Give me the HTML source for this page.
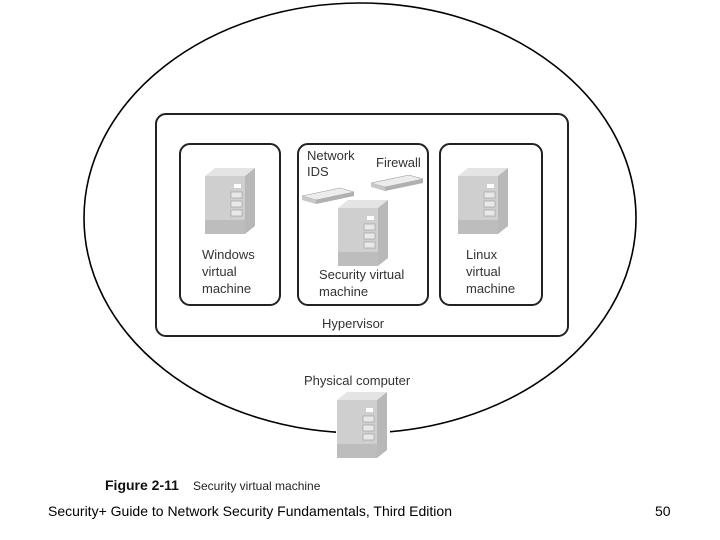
<!DOCTYPE html>
<html><head><meta charset="utf-8"><style>
html,body{margin:0;padding:0;background:#fff;}
svg{display:block;}
text{font-family:"Liberation Sans",sans-serif;}
</style></head><body>
<svg width="720" height="540" viewBox="0 0 720 540" xmlns="http://www.w3.org/2000/svg">
<defs>
<g id="srv">
  <polygon points="0,8 10,0 50,0 40,8" fill="#e4e4e4"/>
  <polygon points="40,8 50,0 50,58 40,66" fill="#b8b8b8"/>
  <rect x="0" y="8" width="40" height="58" fill="#cfcfcf"/>
  <rect x="0" y="52" width="40" height="14" fill="#bdbdbd"/>
  <rect x="29" y="16" width="7" height="4" fill="#fff"/>
  <rect x="26" y="24" width="11" height="6" fill="#e8e8e8" stroke="#999" stroke-width="0.6"/>
  <rect x="26" y="33" width="11" height="6" fill="#e8e8e8" stroke="#999" stroke-width="0.6"/>
  <rect x="26" y="42" width="11" height="6" fill="#e8e8e8" stroke="#999" stroke-width="0.6"/>
</g>
<g id="dev">
  <polygon points="0,8 38,0 52,4 14,12" fill="#ececec" stroke="#999" stroke-width="0.6"/>
  <polygon points="0,8 14,12 14,16 0,12" fill="#c8c8c8"/>
  <polygon points="14,12 52,4 52,8 14,16" fill="#b0b0b0"/>
</g>
</defs>
<ellipse cx="360" cy="218" rx="276" ry="215" fill="none" stroke="#000" stroke-width="1.6"/>
<rect x="156" y="114" width="412" height="222" rx="10" fill="#fff" stroke="#222" stroke-width="2"/>
<rect x="180" y="144" width="100" height="161" rx="10" fill="none" stroke="#222" stroke-width="2"/>
<rect x="298" y="144" width="130" height="161" rx="10" fill="none" stroke="#222" stroke-width="2"/>
<rect x="440" y="144" width="102" height="161" rx="10" fill="none" stroke="#222" stroke-width="2"/>
<use href="#srv" x="205" y="168"/>
<use href="#srv" x="338" y="200"/>
<use href="#srv" x="458" y="168"/>
<use href="#dev" x="302" y="188"/>
<use href="#dev" x="371" y="175"/>
<rect x="336" y="392" width="54" height="70" fill="#fff"/>
<use href="#srv" x="337" y="392"/>
<g font-size="13" fill="#333">
<text x="307" y="160">Network</text><text x="307" y="176">IDS</text>
<text x="376" y="167">Firewall</text>
<text x="202" y="259">Windows</text><text x="202" y="276">virtual</text><text x="202" y="293">machine</text>
<text x="319" y="279">Security virtual</text><text x="319" y="296">machine</text>
<text x="466" y="259">Linux</text><text x="466" y="276">virtual</text><text x="466" y="293">machine</text>
<text x="322" y="328">Hypervisor</text>
<text x="304" y="385">Physical computer</text>
</g>
<text x="105" y="490" font-size="14" font-weight="bold" fill="#111">Figure 2-11</text>
<text x="193" y="490" font-size="12" fill="#222">Security virtual machine</text>
<text x="48" y="516" font-size="14" fill="#000">Security+ Guide to Network Security Fundamentals, Third Edition</text>
<text x="655" y="516" font-size="14" fill="#000">50</text>
</svg>
</body></html>
